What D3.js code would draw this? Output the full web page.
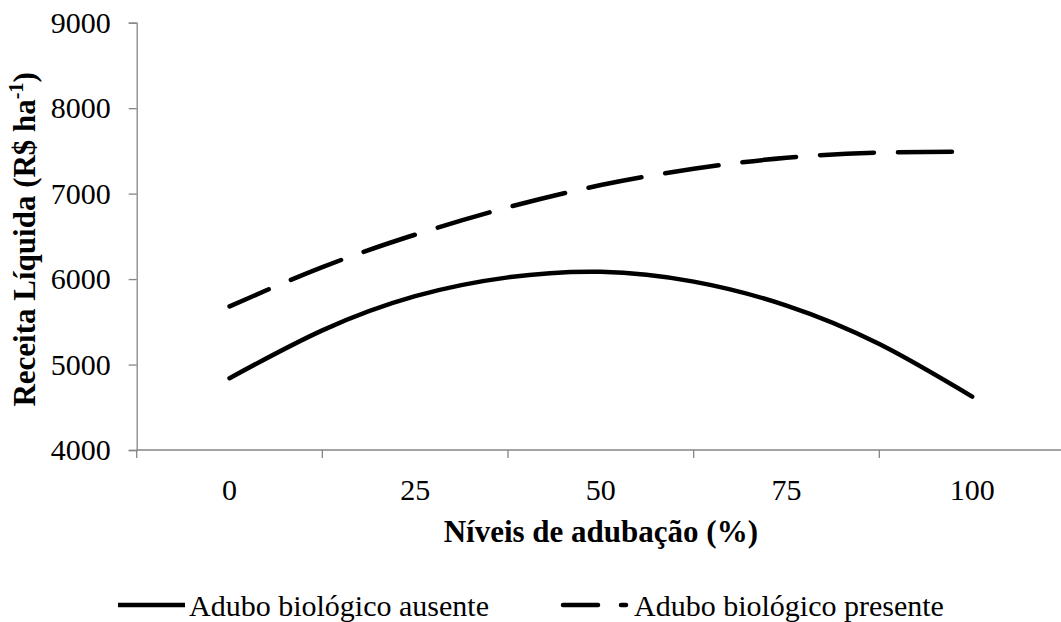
<!DOCTYPE html>
<html>
<head>
<meta charset="utf-8">
<script src="https://cdn.jsdelivr.net/npm/d3@7"></script>
<style>
  html, body { margin: 0; padding: 0; background: #fff; }
  svg text { font-family: "Liberation Serif", "Times New Roman", serif; fill: #000; }
</style>
</head>
<body>
<svg id="chart" width="1061" height="622"></svg>
<script>
const categories = ["0", "25", "50", "75", "100"];
const levels = [0, 12.5, 25, 37.5, 50, 62.5, 75, 87.5, 100];
const ausente = [4840, 5400, 5800, 6020, 6085, 5970, 5690, 5240, 4625];
const presente = [5680, 6140, 6520, 6840, 7100, 7290, 7420, 7480, 7490];
const yTicks = [4000, 5000, 6000, 7000, 8000, 9000];
const seriesNames = ["Adubo biológico ausente", "Adubo biológico presente"];

(function () {
const svg = d3.select("#chart");
const mLeft = 136.7, mRight = 1065, mTop = 22.7, mBottom = 450;

const xBand = d3.scaleBand().domain(categories).range([mLeft, mRight]).paddingInner(0).paddingOuter(0);
const x = d3.scaleLinear().domain([0, 100])
  .range([xBand("0") + xBand.bandwidth() / 2, xBand("100") + xBand.bandwidth() / 2]);
const y = d3.scaleLinear().domain([4000, 9000]).range([mBottom, mTop]);

const axisColor = "#868686";

// Y axis
const yAxis = svg.append("g").attr("transform", `translate(${mLeft},0)`)
  .call(d3.axisLeft(y).tickValues(yTicks).tickSize(8).tickPadding(18).tickFormat(d3.format("d")));
yAxis.attr("font-family", null);
yAxis.select(".domain").attr("stroke", axisColor).attr("stroke-width", 1.3);
yAxis.selectAll(".tick line").attr("stroke", axisColor).attr("stroke-width", 1.3);
yAxis.selectAll(".tick text").attr("font-size", 30).attr("font-family", "Liberation Serif").attr("fill", "#000");

// X axis (category axis, ticks between categories)
const xg = svg.append("g").attr("transform", `translate(0,${mBottom})`);
xg.append("line").attr("x1", mLeft).attr("x2", mRight).attr("y1", 0).attr("y2", 0)
  .attr("stroke", axisColor).attr("stroke-width", 1.3);
const boundaries = categories.map(c => xBand(c)).concat([xBand(categories[categories.length - 1]) + xBand.bandwidth()]);
xg.selectAll("line.tk").data(boundaries).enter().append("line").attr("class", "tk")
  .attr("x1", d => d).attr("x2", d => d).attr("y1", 0).attr("y2", 8)
  .attr("stroke", axisColor).attr("stroke-width", 1.3);
xg.selectAll("text.lbl").data(categories).enter().append("text").attr("class", "lbl")
  .attr("x", d => xBand(d) + xBand.bandwidth() / 2).attr("y", 39)
  .attr("dy", "0.35em").attr("text-anchor", "middle").attr("font-size", 30).text(d => d);

// Titles
svg.append("text").attr("x", x(50)).attr("y", 531).attr("dy", "0.35em")
  .attr("text-anchor", "middle").attr("font-size", 31).attr("font-weight", "bold")
  .text("Níveis de adubação (%)");

const yt = svg.append("text").attr("transform", `translate(24,${(mTop + mBottom) / 2 + 3}) rotate(-90)`)
  .attr("dy", "0.35em").attr("text-anchor", "middle").attr("font-size", 31).attr("font-weight", "bold");
yt.append("tspan").text("Receita Líquida (R$ ha");
yt.append("tspan").attr("font-size", 20).attr("dy", "-0.6em").text("-1");
yt.append("tspan").attr("dy", "0.4em").text(")");

// Lines
const line = d3.line().x((d, i) => x(levels[i])).y(d => y(d)).curve(d3.curveNatural);
svg.append("path").datum(ausente).attr("d", line)
  .attr("fill", "none").attr("stroke", "#000").attr("stroke-width", 4.5).attr("stroke-linecap", "round");
const dashed = svg.append("path").datum(presente).attr("d", line)
  .attr("fill", "none").attr("stroke", "#000").attr("stroke-width", 4.5).attr("stroke-linecap", "round");

// dash phase: anchor so that a dash ends just before the line end (as in reference)
const node = dashed.node();
const L = node.getTotalLength();
const dashLen = 54, gapLen = 24, period = dashLen + gapLen;
const endGapVisible = 18; // distance from last visible dash end to line end
const sEnd = L - endGapVisible - 2.25;
const offset = ((dashLen - sEnd) % period + period) % period;
dashed.attr("stroke-dasharray", `${dashLen},${gapLen}`).attr("stroke-dashoffset", offset);

// Legend
const ly = 605;
svg.append("line").attr("x1", 118).attr("x2", 185).attr("y1", ly).attr("y2", ly)
  .attr("stroke", "#000").attr("stroke-width", 4.5);
svg.append("text").attr("x", 189).attr("y", ly).attr("dy", "0.35em").attr("font-size", 30).text(seriesNames[0]);
svg.append("line").attr("x1", 563).attr("x2", 598).attr("y1", ly).attr("y2", ly)
  .attr("stroke", "#000").attr("stroke-width", 4.5).attr("stroke-linecap", "round");
svg.append("line").attr("x1", 621).attr("x2", 626).attr("y1", ly).attr("y2", ly)
  .attr("stroke", "#000").attr("stroke-width", 4.5).attr("stroke-linecap", "round");
svg.append("text").attr("x", 634).attr("y", ly).attr("dy", "0.35em").attr("font-size", 30).text(seriesNames[1]);
})();
</script>
</body>
</html>
